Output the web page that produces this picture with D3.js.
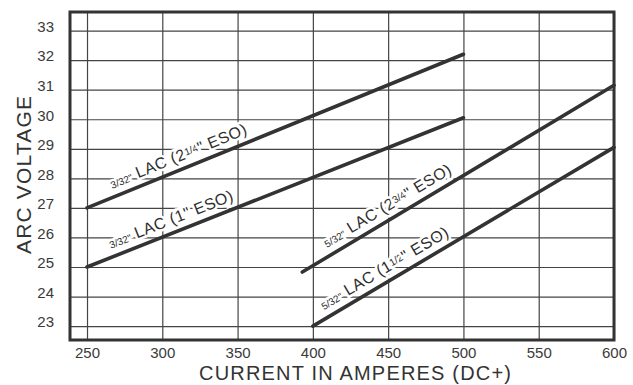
<!DOCTYPE html>
<meta charset="utf-8">
<script src="https://d3js.org/d3.v7.min.js"></script>
<body style="margin:0;background:#fff">
<svg width="633" height="385"></svg>
<script>
// axis ticks
var currentTicks = [250, 300, 350, 400, 450, 500, 550, 600];
var voltageTicks = [23, 24, 25, 26, 27, 28, 29, 30, 31, 32, 33];

// each line: two end points (current, voltage)
var seriesCurrent = [[250, 500], [250, 500], [393, 600], [400, 600]];
var seriesVoltage = [[27, 32.2], [25, 30.05], [24.83, 31.15], [23, 29.05]];

// label pieces: [text, small?]
var seriesLabels = [
  [["3/32\"", 1], [" LAC (2", 0], ["1/4", 2], ["\" ESO)", 0]],
  [["3/32\"", 1], [" LAC (1\" ESO)", 0]],
  [["5/32\"", 1], [" LAC (2", 0], ["3/4", 2], ["\" ESO)", 0]],
  [["5/32\"", 1], [" LAC (1", 0], ["1/2", 2], ["\" ESO)", 0]]
];
var labelAt = [314, 309, 454, 452];

var ink = '#333';
var svg = d3.select('svg');

var x = d3.scaleLinear().domain([238.7, 600]).range([70, 614]);
var y = d3.scaleLinear().domain([22.53, 33.63]).range([340, 12]);

var grid = svg.append('g');

grid.append('g')
  .attr('transform', 'translate(0,340)')
  .call(d3.axisBottom(x).tickValues(currentTicks).tickSize(-328).tickPadding(7))
  .call(function (g) {
    g.select('.domain').remove();
    g.selectAll('line').attr('stroke', '#444').attr('stroke-width', 1.2);
    g.selectAll('text').attr('font-family', 'Liberation Sans, Arial, sans-serif')
      .attr('font-size', 15).attr('fill', '#3a3a3a');
  });

grid.append('g')
  .attr('transform', 'translate(70,0)')
  .call(d3.axisLeft(y).tickValues(voltageTicks).tickSize(-544).tickPadding(16))
  .call(function (g) {
    g.select('.domain').remove();
    g.selectAll('line').attr('stroke', '#444').attr('stroke-width', 1.2);
    g.selectAll('text').attr('font-family', 'Liberation Sans, Arial, sans-serif')
      .attr('font-size', 15).attr('fill', '#3a3a3a').attr('dy', '0.05em');
  });

// labels first (white halo cuts gridlines), lines on top
seriesCurrent.forEach(function (xs, i) {
  var ys = seriesVoltage[i];
  var x0 = x(xs[0]), y0 = y(ys[0]), x1 = x(xs[1]), y1 = y(ys[1]);
  var ang = Math.atan2(y1 - y0, x1 - x0);
  var c = labelAt[i];
  var v = ys[0] + (ys[1] - ys[0]) * (c - xs[0]) / (xs[1] - xs[0]);
  var px = x(c), py = y(v);
  var off = 8;
  px += Math.sin(ang) * off;
  py -= Math.cos(ang) * off;
  var t = svg.append('text')
    .attr('transform', 'translate(' + px + ',' + py + ') rotate(' + (ang * 180 / Math.PI) + ')')
    .attr('text-anchor', 'middle')
    .attr('font-family', 'Liberation Sans, Arial, sans-serif')
    .attr('font-size', 16)
    .attr('fill', '#2e2e2e')
    .attr('stroke', '#fff').attr('stroke-width', 5)
    .attr('paint-order', 'stroke')
    .attr('letter-spacing', 0.5);
  seriesLabels[i].forEach(function (p) {
    var s = t.append('tspan').text(p[0]);
    if (p[1] === 1) s.attr('font-size', 10).attr('letter-spacing', 0);
    if (p[1] === 2) s.attr('font-size', 10).attr('letter-spacing', 0).attr('baseline-shift', '3');
  });
});

var line = d3.line().x(function (d) { return x(d[0]); }).y(function (d) { return y(d[1]); });
seriesCurrent.forEach(function (xs, i) {
  svg.append('path')
    .attr('d', line(xs.map(function (c, k) { return [c, seriesVoltage[i][k]]; })))
    .attr('fill', 'none').attr('stroke', ink).attr('stroke-width', 3.6)
    .attr('stroke-linecap', 'round');
});

// frame
svg.append('rect').attr('x', 70).attr('y', 12).attr('width', 544).attr('height', 328)
  .attr('fill', 'none').attr('stroke', ink).attr('stroke-width', 3);

svg.append('text')
  .attr('x', 355).attr('y', 380)
  .attr('text-anchor', 'middle')
  .attr('font-family', 'Liberation Sans, Arial, sans-serif')
  .attr('font-size', 20).attr('fill', '#333')
  .attr('textLength', 312)
  .text('CURRENT IN AMPERES (DC+)');

svg.append('text')
  .attr('transform', 'translate(31,175) rotate(-90)')
  .attr('text-anchor', 'middle')
  .attr('font-family', 'Liberation Sans, Arial, sans-serif')
  .attr('font-size', 21).attr('fill', '#333')
  .attr('textLength', 158)
  .text('ARC VOLTAGE');
</script>
</body>
